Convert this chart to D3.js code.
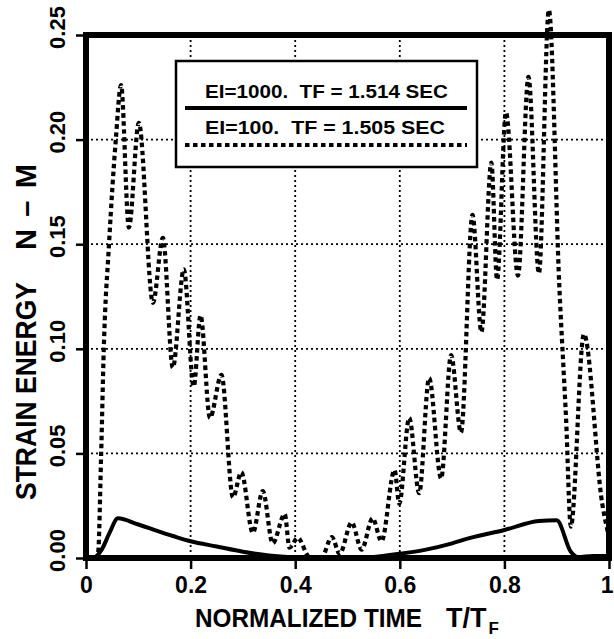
<!DOCTYPE html>
<html>
<head>
<meta charset="utf-8">
<script src="https://cdn.jsdelivr.net/npm/d3@7"></script>
<style>
  body { margin: 0; background: #fff; }
  text { font-family: "Liberation Sans", Arial, sans-serif; font-weight: bold; fill: #000; white-space: pre; }
</style>
</head>
<body>
<svg id="chart"></svg>
<script>
// EI=1000, сплошная линия
const stiffT = [0, 0.013, 0.03, 0.045, 0.061, 0.1, 0.166, 0.2, 0.25, 0.3, 0.35, 0.4, 0.45, 0.5, 0.55, 0.6, 0.65, 0.7, 0.733, 0.8, 0.866, 0.9, 0.927, 0.94, 0.97, 1.0];
const stiffE = [0, 0, 0.004, 0.012, 0.019, 0.016, 0.0105, 0.008, 0.0055, 0.003, 0.0012, 0.0003, 0, 0, 0.0005, 0.002, 0.004, 0.007, 0.0095, 0.0134, 0.0177, 0.018, 0.003, 0.0005, 0.001, 0.001];

// EI=100, пунктир
const softT = [0, 0.017, 0.023, 0.029, 0.034, 0.044, 0.057, 0.067, 0.082, 0.101, 0.128, 0.147, 0.166, 0.187, 0.206, 0.219, 0.237, 0.259, 0.281, 0.297, 0.319, 0.338, 0.357, 0.38, 0.389, 0.405, 0.427, 0.45, 0.47, 0.485, 0.508, 0.527, 0.548, 0.565, 0.59, 0.599, 0.618, 0.637, 0.656, 0.679, 0.698, 0.717, 0.739, 0.756, 0.775, 0.786, 0.803, 0.826, 0.846, 0.866, 0.885, 0.905, 0.918, 0.927, 0.952, 0.987, 1.0];
const softE = [0, 0, 0.002, 0.05, 0.10, 0.15, 0.20, 0.226, 0.158, 0.208, 0.122, 0.153, 0.091, 0.138, 0.082, 0.116, 0.067, 0.0875, 0.029, 0.041, 0.012, 0.032, 0.007, 0.021, 0.005, 0.0096, 0.0005, 0, 0.010, 0.002, 0.017, 0.004, 0.019, 0.008, 0.042, 0.026, 0.067, 0.031, 0.086, 0.038, 0.097, 0.060, 0.164, 0.108, 0.189, 0.133, 0.213, 0.135, 0.230, 0.136, 0.262, 0.13, 0.066, 0.015, 0.107, 0.026, 0.01];

const xTicks = [0, 0.2, 0.4, 0.6, 0.8, 1];
const xTickLabels = ["0", "0.2", "0.4", "0.6", "0.8", "1"];
const yTicks = [0, 0.05, 0.10, 0.15, 0.20, 0.25];
const legendLabels = ["EI=1000.  TF = 1.514 SEC", "EI=100.  TF = 1.505 SEC"];

const width = 614;
const height = 639;
const m = { left: 86, right: 609, top: 35, bottom: 558 };

const svg = d3.select("#chart")
    .attr("width", width)
    .attr("height", height);

const x = d3.scaleLinear().domain([0, 1]).range([m.left, m.right]);
const y = d3.scaleLinear().domain([0, 0.25]).range([m.bottom, m.top]);

// сетка
svg.append("g")
  .selectAll("line")
  .data(xTicks.slice(1, -1))
  .join("line")
    .attr("x1", d => x(d)).attr("x2", d => x(d))
    .attr("y1", m.top).attr("y2", m.bottom)
    .attr("stroke", "#000").attr("stroke-width", 1.8)
    .attr("stroke-dasharray", "2,3");

svg.append("g")
  .selectAll("line")
  .data(yTicks.slice(1, -1))
  .join("line")
    .attr("x1", m.left).attr("x2", m.right)
    .attr("y1", d => y(d)).attr("y2", d => y(d))
    .attr("stroke", "#000").attr("stroke-width", 1.8)
    .attr("stroke-dasharray", "2,3");

const line = d3.line()
    .x(d => x(d[0]))
    .y(d => y(d[1]))
    .curve(d3.curveMonotoneX);

svg.append("path")
    .datum(d3.zip(softT, softE))
    .attr("fill", "none")
    .attr("stroke", "#000")
    .attr("stroke-width", 4.2)
    .attr("stroke-dasharray", "4.5,3.5")
    .attr("d", line);

svg.append("path")
    .datum(d3.zip(stiffT, stiffE))
    .attr("fill", "none")
    .attr("stroke", "#000")
    .attr("stroke-width", 4)
    .attr("stroke-linejoin", "round")
    .attr("d", line);

// легенда
const lg = svg.append("g");
lg.append("rect")
    .attr("x", 176).attr("y", 61)
    .attr("width", 301).attr("height", 106)
    .attr("fill", "#fff").attr("stroke", "#000").attr("stroke-width", 2.5);

lg.append("text")
    .attr("x", 205).attr("y", 98)
    .style("font-size", "19px")
    .attr("textLength", 243).attr("lengthAdjust", "spacingAndGlyphs")
    .text(legendLabels[0]);
lg.append("line")
    .attr("x1", 185).attr("x2", 467).attr("y1", 108).attr("y2", 108)
    .attr("stroke", "#000").attr("stroke-width", 4);

lg.append("text")
    .attr("x", 205).attr("y", 134)
    .style("font-size", "19px")
    .attr("textLength", 240).attr("lengthAdjust", "spacingAndGlyphs")
    .text(legendLabels[1]);
lg.append("line")
    .attr("x1", 185).attr("x2", 467).attr("y1", 145).attr("y2", 145)
    .attr("stroke", "#000").attr("stroke-width", 4)
    .attr("stroke-dasharray", "4.5,3.5");

// рамка
svg.append("rect")
    .attr("x", m.left).attr("y", m.top)
    .attr("width", m.right - m.left).attr("height", m.bottom - m.top)
    .attr("fill", "none").attr("stroke", "#000").attr("stroke-width", 6);

// оси
const xAxis = svg.append("g")
    .attr("transform", `translate(0, ${m.bottom})`)
    .call(d3.axisBottom(x).tickValues(xTicks)
        .tickFormat((d, i) => xTickLabels[i])
        .tickSize(11).tickPadding(8));
xAxis.select(".domain").remove();
xAxis.selectAll("line").attr("stroke-width", 2.5);
xAxis.selectAll("text")
    .style("font-size", "23px")
    .style("font-weight", "bold");
// последняя подпись у самого края
xAxis.selectAll("text").filter(d => d === 1)
    .attr("text-anchor", "end")
    .attr("x", 4);

const yAxis = svg.append("g")
    .attr("transform", `translate(${m.left}, 0)`)
    .call(d3.axisLeft(y).tickValues(yTicks)
        .tickFormat(d3.format(".2f"))
        .tickSize(10));
yAxis.select(".domain").remove();
yAxis.selectAll("line").attr("stroke-width", 2.5);
yAxis.selectAll("text")
    .attr("x", null).attr("dy", null)
    .attr("text-anchor", "middle")
    .attr("transform", "translate(-21, -8) rotate(-90)")
    .style("font-size", "22px")
    .style("font-weight", "bold");

// подписи осей
svg.append("text")
    .attr("x", 195).attr("y", 627)
    .style("font-size", "25px")
    .attr("textLength", 227).attr("lengthAdjust", "spacingAndGlyphs")
    .text("NORMALIZED TIME");
const tt = svg.append("text")
    .attr("x", 446).attr("y", 627)
    .style("font-size", "27px");
tt.append("tspan").text("T/T");
tt.append("tspan")
    .attr("dx", 2).attr("dy", 7)
    .style("font-size", "17px")
    .text("F");

svg.append("text")
    .attr("transform", "translate(36, 500) rotate(-90)")
    .style("font-size", "29px")
    .attr("textLength", 218).attr("lengthAdjust", "spacingAndGlyphs")
    .text("STRAIN ENERGY");
svg.append("text")
    .attr("transform", "translate(36, 250) rotate(-90)")
    .style("font-size", "29px")
    .attr("textLength", 86).attr("lengthAdjust", "spacing")
    .text("N–M");
</script>
</body>
</html>
